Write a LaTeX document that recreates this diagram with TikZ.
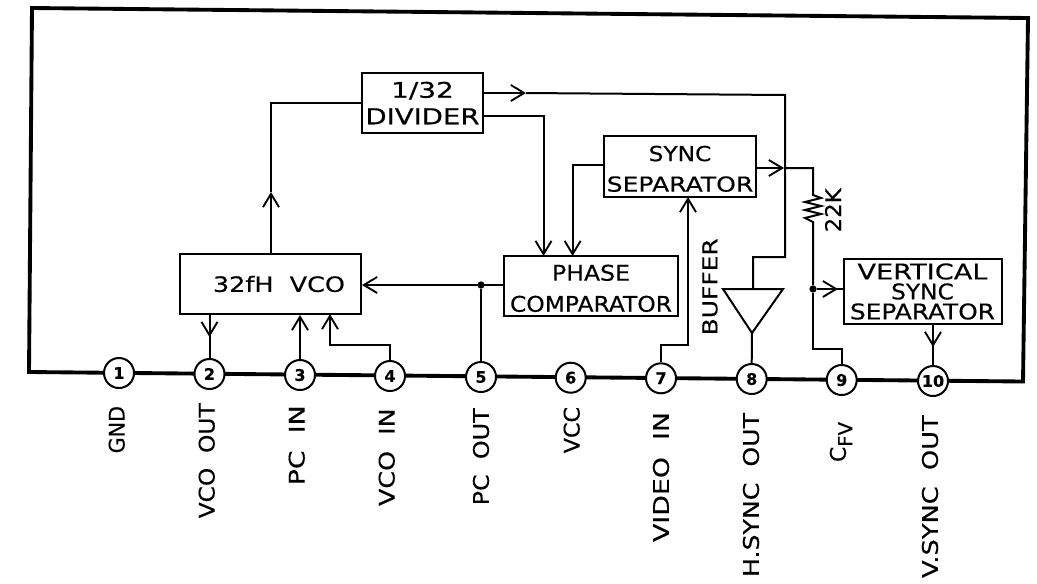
\documentclass[tikz,border=0pt]{standalone}
\usepackage{fontspec}
\usepackage{graphicx}
\setmainfont[FakeBold=0.35]{DejaVu Sans}
\usetikzlibrary{arrows.meta}
\newcommand{\fitto}[3]{\resizebox{#1pt}{#2pt}{#3}}
\tikzset{
  x=0.75pt,y=-0.75pt,
  wire/.style={line width=1.5pt,line join=miter},
  heavy/.style={line width=2.9pt,line join=miter},
  sig/.style={wire,-{Straight Barb[length=10pt,width=12pt,line width=1.4pt]}},
  block/.style={draw,line width=1.5pt,inner sep=0pt,align=center},
  pin/.style={circle,draw,fill=white,line width=1.5pt,minimum size=22.5pt,inner sep=0pt,font=\fontsize{12}{12}\selectfont\bfseries},
  lab/.style={rotate=90,anchor=east,inner sep=0pt},
  jn/.style={circle,fill,inner sep=0pt,minimum size=5.5pt}
}
\begin{document}
\begin{tikzpicture}
\useasboundingbox (0,0) rectangle (1037,583);
% outer package
\coordinate (tl) at (32,8);
\coordinate (tr) at (1028,18);
\coordinate (br) at (1023,381.5);
\coordinate (bl) at (29,372);
\draw[heavy,line join=miter] (bl) -- (tl) -- (tr) -- (br) -- cycle;
% pins
\node[pin] (p1) at (119,373) {1};
\node[pin] (p2) at (209.5,374) {2};
\node[pin] (p3) at (300,375) {3};
\node[pin] (p4) at (390,376) {4};
\node[pin] (p5) at (481,377) {5};
\node[pin] (p6) at (570.7,377.7) {6};
\node[pin] (p7) at (661,378.3) {7};
\node[pin] (p8) at (751.7,379) {8};
\node[pin] (p9) at (841.7,380) {9};
\node[pin] (p10) at (933,381) {10};
% pin labels
\node[lab] (l1) at (116.7,405.7) {\fitto{35.5}{12}{GND}};
\node[lab] (l2) at (206.7,403) {\fitto{86.25}{12}{VCO\ \ OUT}};
\node[lab] (l3) at (296.7,405) {\fitto{60}{12}{PC\ \ IN}};
\node[lab] (l4) at (386.7,408) {\fitto{73.3}{12}{VCO\ \ IN}};
\node[lab] (l5) at (481,408) {\fitto{72.75}{12}{PC\ \ OUT}};
\node[lab] (l6) at (571.7,406.7) {\fitto{34.7}{12}{VCC}};
\node[lab] (l7) at (661,411.7) {\fitto{97.5}{12}{VIDEO\ \ IN}};
\node[lab] (l8) at (751,412.7) {\fitto{123}{12}{H.SYNC\ \ OUT}};
\node[lab] (l9) at (841,421.7) {\fitto{30}{12}{C\raisebox{-3pt}{\fontsize{9}{9}\selectfont FV}}};
\node[lab] (l10) at (930,415) {\fitto{122}{12}{V.SYNC\ \ OUT}};
% blocks
\node[block,minimum width=135.75pt,minimum height=45pt] (vco) at (270.5,284) {\hspace*{12.75pt}\fitto{99}{12}{32fH\ \ VCO}};
\node[block,minimum width=90.75pt,minimum height=45pt,font=\fontsize{12}{19.9}\selectfont] (div) at (422.5,103) {\fitto{47}{12}{1/32}\\\fitto{85.5}{12}{DIVIDER}};
\node[block,minimum width=114pt,minimum height=45.75pt,font=\fontsize{12}{22.9}\selectfont] (sync) at (680,166.5) {\rule{0pt}{15pt}\fitto{47}{11.5}{SYNC}\\\fitto{110}{11.5}{SEPARATOR}};
\node[block,minimum width=130.5pt,minimum height=45pt,font=\fontsize{12}{23.3}\selectfont] (phase) at (591,286) {\rule{0pt}{15.5pt}\fitto{58.5}{12}{PHASE}\\\fitto{121.5}{12}{COMPARATOR}};
\node[block,minimum width=118.5pt,minimum height=48.75pt,font=\fontsize{12}{15}\selectfont] (vert) at (922.5,291.5) {\fitto{97.5}{12}{VERTICAL}\\\fitto{47}{12}{SYNC}\\\fitto{108.75}{12}{SEPARATOR}};
% other labels
\node[lab] (buf) at (710,238) {\fitto{72.75}{11.25}{BUFFER}};
\node[lab] (kr) at (833,188) {\fitto{33}{12}{22K}};
% buffer triangle
\coordinate (t1) at (723,289);
\coordinate (t2) at (783,289);
\coordinate (tip) at (752,333);
\draw[wire] (t1) -- (t2) -- (tip) -- cycle;
% connectors
\draw[sig] (vco.north) ++(0.5,0) -- (271,192);
\draw[wire] (271,192) |- (div.west |- 0,103);
\draw[sig] (div.east |- 0,93) -- (526,93);
\draw[wire] (526,93) -- (785,95) -- (785,257) -- (753,257) -- (753,289);
\draw[sig] (div.east |- 0,116) -| (543.5,256);
\draw[sig] (sync.west |- 0,165) -| (572.6,256);
\draw[sig] (phase.west |- 0,285) -- (vco.east |- 0,285);
\node[jn] (j5) at (481,285) {};
\draw[wire] (j5) -- (p5);
\draw[wire] (vco.south -| p2) -- (p2.north);
\draw[sig] (vco.south -| p2) -- (209.5,337);
\draw[sig] (p3.north) -- (p3 |- vco.south);
\draw[sig] (p4.north) |- (330,345) -- (330,314);
\draw[sig] (p7.north) |- (688,345) -- (688,197);
\draw[wire] (tip) -- (p8.north);
\draw[sig] (sync.east |- 0,168) -- (784,168);
\node[jn] (j9) at (813,289) {};
\draw[wire] (784,168) -- (813,168) -- (813,195) -- (821,198) -- (805,202) -- (821,206) -- (805,210) -- (821,214) -- (805,218) -- (813,222) -- (j9);
\draw[wire] (j9) |- (p9 |- 0,349) -- (p9.north);
\draw[wire] (j9) -- (vert.west |- j9);
\draw[sig] (j9) -- (838,289);
\draw[wire] (vert.south -| p10) -- (p10.north);
\draw[sig] (vert.south -| p10) -- (933,347);
\end{tikzpicture}
\end{document}
